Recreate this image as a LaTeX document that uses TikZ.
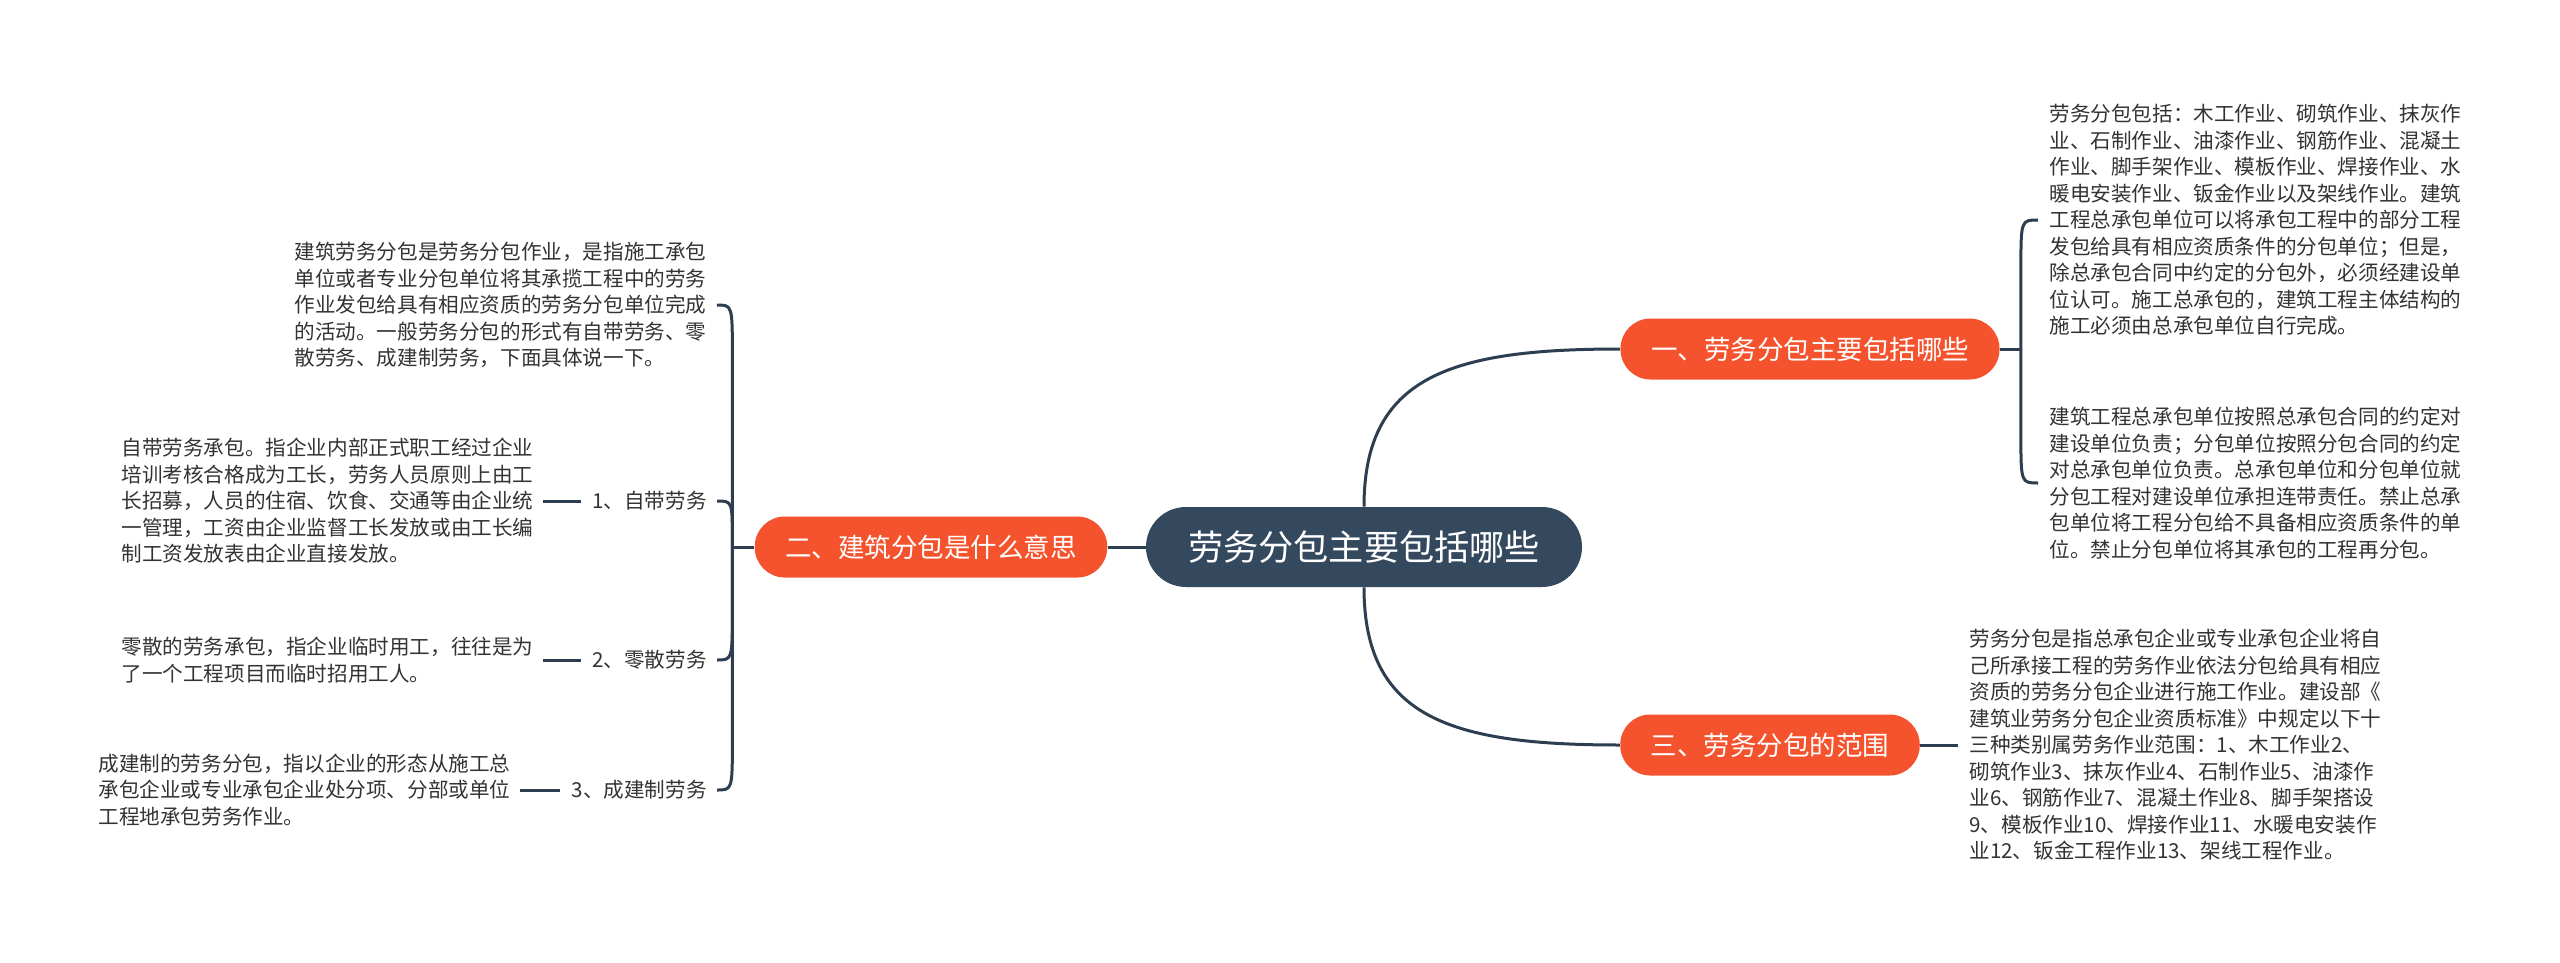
\documentclass[tikz,border=0pt]{standalone}
\usepackage{fontspec}
\setmainfont{Noto Sans CJK SC}
\usepackage{tikz}
\usetikzlibrary{calc}
\definecolor{mmslate}{HTML}{34495E}
\definecolor{mmline}{HTML}{2C3E50}
\definecolor{mmred}{HTML}{F5532D}
\definecolor{mmink}{HTML}{333333}
\tikzset{
  root/.style={fill=mmslate, text=white, rounded corners=20pt, minimum height=40pt, inner xsep=21pt, inner ysep=0pt, font=\fontsize{17.6}{20}\selectfont},
  topic/.style={fill=mmred, text=white, rounded corners=15pt, minimum height=30.5pt, inner xsep=15.25pt, inner ysep=0pt, font=\fontsize{13.25}{16}\selectfont},
  note/.style={text=mmink, align=left, inner sep=0pt, font=\fontsize{10.3}{13.25}\selectfont},
  tag/.style={text=mmink, inner sep=0pt, font=\fontsize{10.3}{13.25}\selectfont},
  link/.style={draw=mmline, line width=1.5pt},
  stub/.style={link, shorten <=4.5pt, shorten >=5.5pt},
}

\begin{document}
\begin{tikzpicture}[x=0.5pt, y=-0.5pt]
  \fill[white] (0,0) rectangle (2560,963);
  \useasboundingbox (0,0) rectangle (2560,963);

  \node[root] (cen) at (1364,547) {劳务分包主要包括哪些};
  \node[topic] (n1) at (1810,349) {一、劳务分包主要包括哪些};
  \node[topic] (n2) at (931,547) {二、建筑分包是什么意思};
  \node[topic] (n3) at (1770,745) {三、劳务分包的范围};

  \node[note, anchor=west] (ta) at (2049,220) {劳务分包包括：木工作业、砌筑作业、抹灰作\\业、石制作业、油漆作业、钢筋作业、混凝土\\作业、脚手架作业、模板作业、焊接作业、水\\暖电安装作业、钣金作业以及架线作业。建筑\\工程总承包单位可以将承包工程中的部分工程\\发包给具有相应资质条件的分包单位；但是，\\除总承包合同中约定的分包外，必须经建设单\\位认可。施工总承包的，建筑工程主体结构的\\施工必须由总承包单位自行完成。};
  \node[note, anchor=west] (tb) at (2049,483) {建筑工程总承包单位按照总承包合同的约定对\\建设单位负责；分包单位按照分包合同的约定\\对总承包单位负责。总承包单位和分包单位就\\分包工程对建设单位承担连带责任。禁止总承\\包单位将工程分包给不具备相应资质条件的单\\位。禁止分包单位将其承包的工程再分包。};
  \node[note, anchor=west] (tc) at (1969,745) {劳务分包是指总承包企业或专业承包企业将自\\己所承接工程的劳务作业依法分包给具有相应\\资质的劳务分包企业进行施工作业。建设部《\\建筑业劳务分包企业资质标准》中规定以下十\\三种类别属劳务作业范围：1、木工作业2、\\砌筑作业3、抹灰作业4、石制作业5、油漆作\\业6、钢筋作业7、混凝土作业8、脚手架搭设\\9、模板作业10、焊接作业11、水暖电安装作\\业12、钣金工程作业13、架线工程作业。};

  \node[note, anchor=west] (t0) at (294,305) {建筑劳务分包是劳务分包作业，是指施工承包\\单位或者专业分包单位将其承揽工程中的劳务\\作业发包给具有相应资质的劳务分包单位完成\\的活动。一般劳务分包的形式有自带劳务、零\\散劳务、成建制劳务，下面具体说一下。};
  \node[tag, anchor=east] (l1) at (707,501) {1、自带劳务};
  \node[tag, anchor=east] (l2) at (707,660) {2、零散劳务};
  \node[tag, anchor=east] (l3) at (707,790) {3、成建制劳务};
  \node[note, anchor=west] (t1) at (121,501) {自带劳务承包。指企业内部正式职工经过企业\\培训考核合格成为工长，劳务人员原则上由工\\长招募，人员的住宿、饮食、交通等由企业统\\一管理，工资由企业监督工长发放或由工长编\\制工资发放表由企业直接发放。};
  \node[note, anchor=west] (t2) at (121,660) {零散的劳务承包，指企业临时用工，往往是为\\了一个工程项目而临时招用工人。};
  \node[note, anchor=west] (t3) at (98,790) {成建制的劳务分包，指以企业的形态从施工总\\承包企业或专业承包企业处分项、分部或单位\\工程地承包劳务作业。};

  \draw[link] (n2.east) -- (cen.west);
  \draw[link] (cen.north) .. controls +(0,-130) and +(-170,0) .. (n1.west);
  \draw[link] (cen.south) .. controls +(0,130) and +(-170,0) .. (n3.west);

  \coordinate (rb) at ($(n1.east)+(21,0)$);
  \draw[link] (n1.east) -- (rb);
  \draw[link] (rb) -- ($(rb |- ta.west)+(0,50)$) .. controls (rb |- ta.west) .. ([xshift=-5.5pt]ta.west);
  \draw[link] (rb) -- ($(rb |- tb.west)+(0,-50)$) .. controls (rb |- tb.west) .. ([xshift=-5.5pt]tb.west);
  \draw[link] (n3.east) -- ([xshift=-5.5pt]tc.west);

  \coordinate (lb) at ($(n2.west)+(-22,0)$);
  \draw[link] (n2.west) -- (lb);
  \draw[link] (lb) -- ($(lb |- t0.east)+(0,50)$) .. controls (lb |- t0.east) .. ([xshift=5pt]t0.east);
  \draw[link] (lb) -- ($(lb |- l1.east)+(0,40)$) .. controls (lb |- l1.east) .. ([xshift=5pt]l1.east);
  \draw[link] (lb) -- ($(lb |- l2.east)+(0,-50)$) .. controls (lb |- l2.east) .. ([xshift=5pt]l2.east);
  \draw[link] (lb) -- ($(lb |- l3.east)+(0,-50)$) .. controls (lb |- l3.east) .. ([xshift=5pt]l3.east);
  \draw[stub] (t1.east) -- (l1.west);
  \draw[stub] (t2.east) -- (l2.west);
  \draw[stub] (t3.east) -- (l3.west);
\end{tikzpicture}
\end{document}
